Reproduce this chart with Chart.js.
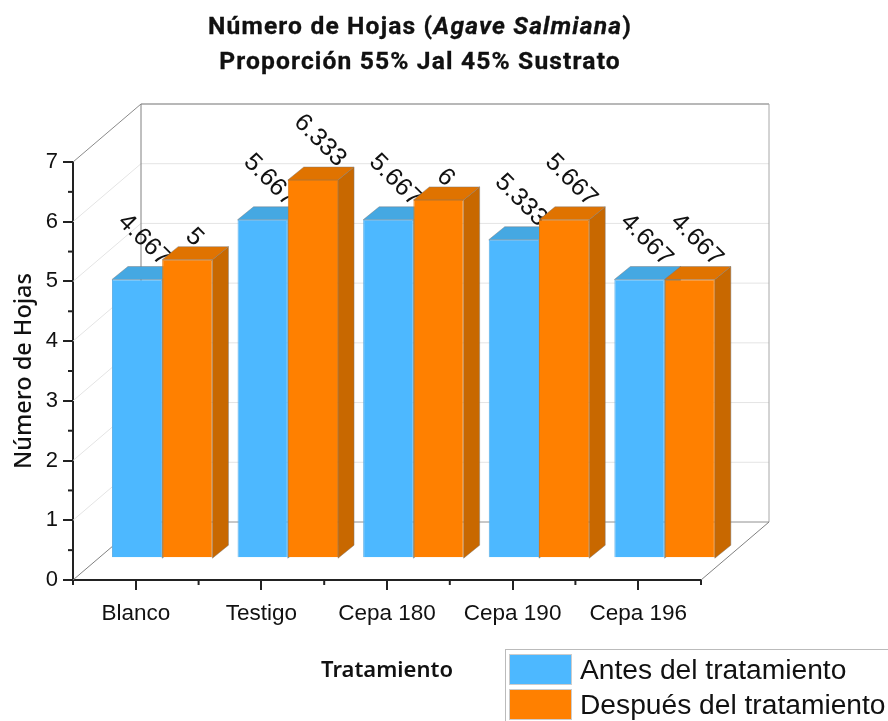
<!DOCTYPE html>
<html lang="es">
<head>
<meta charset="utf-8">
<script src="https://cdn.jsdelivr.net/npm/chart.js@4"></script>
<style>
html,body{margin:0;padding:0;background:#fff;width:888px;height:721px;overflow:hidden}
#wrap{position:relative;width:888px;height:721px}
#title{position:absolute;left:0;top:8px;width:840px;text-align:center;font:700 24.6px/35px Roboto,sans-serif;letter-spacing:1.15px;color:#111;-webkit-text-stroke:.3px #111}
#legend{position:absolute;left:505px;top:649px;width:383px;height:72px;box-sizing:border-box;border:1px solid #bbb;border-right:none;border-bottom:none;font:28.2px/35px "Liberation Sans",sans-serif;color:#111}
.row{position:absolute;left:3px;height:35px;white-space:nowrap}
.sw{position:absolute;left:0;top:0;width:63px;height:31px;border:1px solid #ccc;box-sizing:border-box}
.tx{position:absolute;left:71px;top:-2px}
</style>
</head>
<body>
<div id="wrap">
<canvas id="c" width="888" height="721"></canvas>
<div id="title">Número de Hojas (<i>Agave Salmiana</i>)<br>Proporción 55% Jal 45% Sustrato</div>
<div id="legend"></div>
</div>
<script>
const categories = ["Blanco", "Testigo", "Cepa 180", "Cepa 190", "Cepa 196"];
const antes = [4.667, 5.667, 5.667, 5.333, 4.667];
const despues = [5, 6.333, 6, 5.667, 4.667];
const antesLabels = ["4.667", "5.667", "5.667", "5.333", "4.667"];
const despuesLabels = ["5", "6.333", "6", "5.667", "4.667"];
const yTicks = [0, 1, 2, 3, 4, 5, 6, 7];
const seriesNames = ["Antes del tratamiento", "Después del tratamiento"];
const faceColors = ["#4DB8FF", "#FF8000"];
const edgeColors = ["#5FAFE6", "#D87A18"];
const topColors = ["#45A8E2", "#E07300"];
const sideColors = ["#3F97CC", "#C86800"];

const WALL = {dx: 68, dy: -58};
const BAR_SHIFT = {dx: 26.4, dy: -21.8};
const BAR_DEPTH = {dx: 16, dy: -13};
const AXIS = "#222";

function line(ctx, x1, y1, x2, y2, color, w) {
  ctx.strokeStyle = color; ctx.lineWidth = w;
  ctx.beginPath(); ctx.moveTo(x1, y1); ctx.lineTo(x2, y2); ctx.stroke();
}
function poly(ctx, pts, fill) {
  ctx.fillStyle = fill; ctx.strokeStyle = "rgba(120,120,120,.45)"; ctx.lineWidth = 1;
  ctx.beginPath(); pts.forEach((p, i) => i ? ctx.lineTo(p[0], p[1]) : ctx.moveTo(p[0], p[1]));
  ctx.closePath(); ctx.fill(); ctx.stroke();
}

function drawWalls(chart) {
  const {ctx, scales: {x, y}} = chart;
  const L = x.left, R = x.right, B = y.getPixelForValue(0), T = y.getPixelForValue(7);
  const d = WALL;
  ctx.save();
  yTicks.slice(1, -1).forEach(v => {
    const p = y.getPixelForValue(v);
    line(ctx, L + d.dx, p + d.dy, R + d.dx, p + d.dy, "#e4e4e4", 1);
    line(ctx, L, p, L + d.dx, p + d.dy, "#e4e4e4", 1);
  });
  line(ctx, L, T, L + d.dx, T + d.dy, "#8a8a8a", 1);
  line(ctx, L + d.dx, T + d.dy, R + d.dx, T + d.dy, "#a0a0a0", 1.5);
  line(ctx, L + d.dx, T + d.dy, L + d.dx, B + d.dy, "#808080", 1);
  line(ctx, R + d.dx, T + d.dy, R + d.dx, B + d.dy, "#a8a8a8", 1);
  line(ctx, L + d.dx, B + d.dy, R + d.dx, B + d.dy, "#909090", 1);
  line(ctx, L, B, L + d.dx, B + d.dy, "#808080", 1);
  line(ctx, R, B, R + d.dx, B + d.dy, "#808080", 1);
  // minor ticks, halfway between the labelled ones
  yTicks.slice(0, -1).forEach(v => {
    const p = y.getPixelForValue(v + 0.5);
    line(ctx, L - 5, p, L, p, AXIS, 2);
  });
  const step = x.getPixelForValue(1) - x.getPixelForValue(0);
  categories.forEach((c, i) => {
    const a = x.getPixelForValue(i) - step / 2;
    line(ctx, a, B, a, B + 5, AXIS, 2);
  });
  line(ctx, R, B, R, B + 5, AXIS, 2);
  ctx.restore();
}

function drawSeries(chart, i) {
  const {ctx, scales: {y}} = chart;
  const meta = chart.getDatasetMeta(i), b = BAR_DEPTH;
  const labels = i === 0 ? antesLabels : despuesLabels;
  ctx.save();
  ctx.translate(BAR_SHIFT.dx, BAR_SHIFT.dy);
  meta.data.forEach(el => {
    const p = el.getProps(["x", "y", "width"], true);
    const l = p.x - p.width / 2, r = p.x + p.width / 2, t = p.y, base = y.getPixelForValue(0);
    poly(ctx, [[r, t], [r + b.dx, t + b.dy], [r + b.dx, base + b.dy], [r, base]], sideColors[i]);
    poly(ctx, [[l, t], [l + b.dx, t + b.dy], [r + b.dx, t + b.dy], [r, t]], topColors[i]);
  });
  meta.controller.draw();
  ctx.font = '25px "Liberation Sans", sans-serif';
  ctx.fillStyle = "#111";
  ctx.textAlign = "center";
  ctx.textBaseline = "middle";
  meta.data.forEach((el, k) => {
    const p = el.getProps(["x", "y"], true);
    const w = ctx.measureText(labels[k]).width;
    const half = (w + 18) * Math.SQRT1_2 / 2;
    ctx.save();
    ctx.translate(p.x + b.dx / 2 - 1, p.y - 11 - half);
    ctx.rotate(Math.PI / 4);
    ctx.fillText(labels[k], 0, 0);
    ctx.restore();
  });
  ctx.restore();
}

const box3d = {
  id: "box3d",
  beforeDatasetsDraw(chart) {
    drawWalls(chart);
    // blue first, orange over it: each series hides the label of the one before
    drawSeries(chart, 0);
    drawSeries(chart, 1);
    return false;
  }
};

const chart = new Chart(document.getElementById("c"), {
  type: "bar",
  data: {
    labels: categories,
    datasets: [
      {label: seriesNames[0], data: antes, backgroundColor: faceColors[0], borderColor: edgeColors[0], borderWidth: 1},
      {label: seriesNames[1], data: despues, backgroundColor: faceColors[1], borderColor: edgeColors[1], borderWidth: 1}
    ]
  },
  plugins: [box3d],
  options: {
    responsive: false,
    animation: false,
    layout: {padding: {top: 162, right: 187, bottom: 0, left: 0}},
    plugins: {legend: {display: false}, title: {display: false}, tooltip: {enabled: false}},
    datasets: {bar: {categoryPercentage: 0.8, barPercentage: 1}},
    scales: {
      x: {
        grid: {offset: false, drawOnChartArea: false, drawTicks: true, tickLength: 10, color: AXIS, lineWidth: 2},
        border: {color: AXIS, width: 2},
        ticks: {color: "#111", font: {family: '"Liberation Sans"', size: 22.5}, padding: 10, maxRotation: 0, autoSkip: false},
        title: {display: true, text: "Tratamiento", color: "#111", font: {family: '"Noto Sans"', size: 22, weight: "600"}, padding: {top: 0, bottom: 37}},
        afterFit(s) { s.height = 141; }
      },
      y: {
        min: 0, max: 7,
        grid: {drawOnChartArea: false, drawTicks: true, tickLength: 10, color: AXIS, lineWidth: 2},
        border: {color: AXIS, width: 2},
        ticks: {stepSize: 1, color: "#111", font: {family: '"Liberation Sans"', size: 22}, padding: 5},
        title: {display: true, text: "Número de Hojas", color: "#111", font: {family: '"Noto Sans"', size: 23.5, weight: "500"}, padding: {top: 10, bottom: 0}},
        afterFit(s) { s.width = 73; }
      }
    }
  }
});

const legend = document.getElementById("legend");
seriesNames.forEach((name, i) => {
  const row = document.createElement("div");
  row.className = "row";
  row.style.top = (4 + i * 35) + "px";
  const sw = document.createElement("div");
  sw.className = "sw";
  sw.style.background = faceColors[i];
  const tx = document.createElement("div");
  tx.className = "tx";
  tx.textContent = name;
  row.append(sw, tx);
  legend.append(row);
});
</script>
</body>
</html>
